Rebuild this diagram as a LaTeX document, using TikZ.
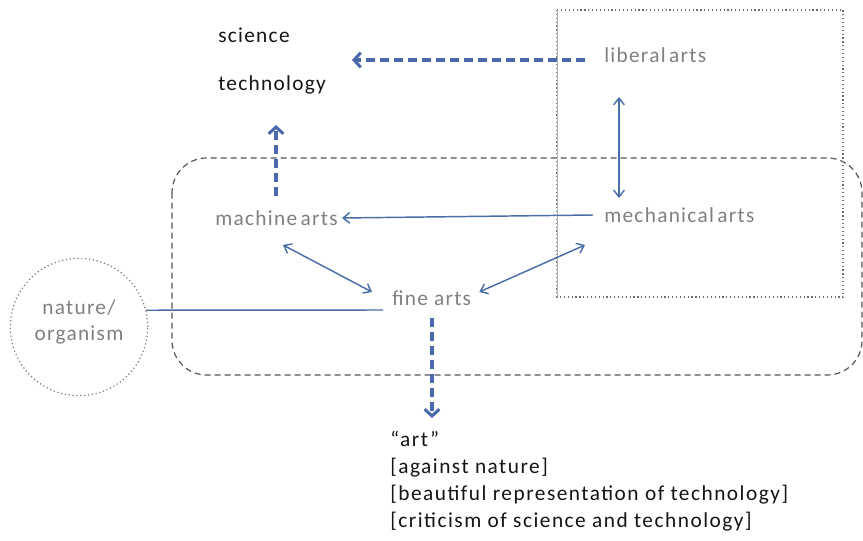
\documentclass[tikz,border=0pt]{standalone}
\usepackage{fontspec}
\setmainfont{Carlito}[LetterSpace=6]
\newfontfamily\widefont{Carlito}[LetterSpace=7]
\usetikzlibrary{arrows.meta,calc}
\definecolor{lineblue}{HTML}{4A6FA8}
\definecolor{dashblue}{HTML}{4A69AC}
\definecolor{labelgray}{HTML}{808080}
\definecolor{framegray}{HTML}{555555}
\definecolor{textblack}{HTML}{151515}
\tikzset{
  graylabel/.style={anchor=west,inner sep=0pt,text=labelgray,font=\fontsize{16}{19}\selectfont},
  blacklabel/.style={anchor=west,inner sep=0pt,text=textblack,font=\fontsize{16}{19}\selectfont},
  thinarrow/.style={draw=lineblue,line width=1.1pt,{Straight Barb[length=5pt,width=8pt]}-{Straight Barb[length=5pt,width=8pt]}},
  thinline/.style={draw=lineblue,line width=1.1pt},
  thickdash/.style={draw=dashblue,line width=2.3pt,dash pattern=on 7pt off 3.5pt,-{Straight Barb[length=5pt,width=11pt]}},
}
\begin{document}
\begin{tikzpicture}[x=0.75pt,y=-0.75pt]
\useasboundingbox (0,0) rectangle (863,541);
% frames
\draw[framegray,line width=0.9pt,dash pattern=on 4.5pt off 3pt,rounded corners=26pt] (172,158) rectangle (862,375);
\draw[framegray!85,line width=0.9pt,dotted] (557,10) rectangle (843,297);
\draw[framegray!45,line width=0.6pt] (557,10) -- (557,297);
\node[circle,draw=framegray!80,dotted,line width=0.9pt,minimum size=103pt,inner sep=0pt] (nat) at (79,327) {};
\node[align=center,inner sep=0pt,text=labelgray,font=\fontsize{16}{19}\selectfont] (natlabel) at (79,322) {nature/\\organism};
% labels
\node[blacklabel] (sci) at (218,35) {science};
\node[blacklabel] (tech) at (218,85) {technology};
\node[graylabel] (lib) at (604,55) {liberal\,arts};
\node[graylabel] (mach) at (215,218) {machine\,arts};
\node[graylabel] (mech) at (604,215) {mechanical\,arts};
\node[graylabel] (fine) at (392,298) {fine arts};
\node[anchor=north west,inner sep=0pt,align=left,text=textblack,font=\widefont\fontsize{16}{20.3}\selectfont] (art) at (390,431)
  {“art”\\{}[against nature]\\{}[beautiful representation of technology]\\{}[criticism of science and technology]};
% connectors
\coordinate (libtail) at ($(lib.west)+(-19,5)$);
\coordinate (stend) at (352,60);
\draw[thickdash] (libtail) -- (stend);
\coordinate (machtop) at ($(mach.west)+(61,-22)$);
\coordinate (techend) at (276,125);
\draw[thickdash] (machtop) -- (techend);
\draw[thinline,-{Straight Barb[length=5pt,width=8pt]}] ($(mech.west)+(-11,0)$) -- ($(mach.east)+(4,0)$);
\draw[thinarrow] ($(lib.west)+(15,42)$) -- ($(mech.west)+(15,-17)$);
\draw[thinarrow] ($(mach.west)+(68,27)$) -- ($(fine.west)+(-20,-6)$);
\draw[thinarrow] ($(fine.east)+(8,-6)$) -- ($(mech.west)+(-19,30)$);
\draw[thinline] (nat.14.5) -- ($(fine.west)+(-9,12)$);
\coordinate (artend) at (432,418);
\draw[thickdash] ($(fine.west)+(40,20)$) -- (artend);
\end{tikzpicture}
\end{document}
